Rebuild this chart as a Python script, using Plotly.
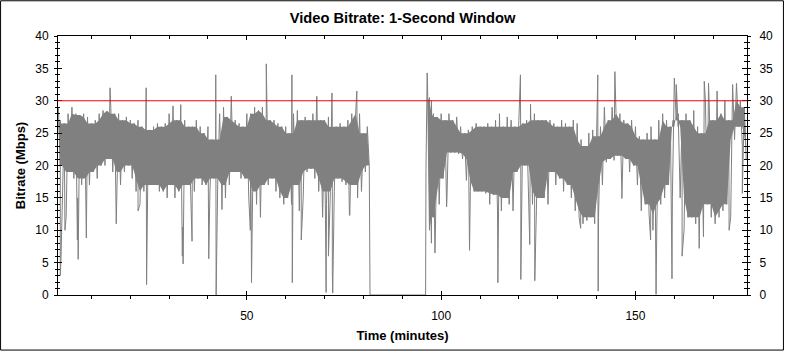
import plotly.graph_objects as go

# ---- data (minutes, Mbps) ----
TIME = [1.5, 2, 3, 4, 5, 6, 7, 8, 9, 10, 11, 12, 13, 14, 15, 16, 17, 18, 19, 20,
        21, 22, 23, 24, 25, 26, 27, 28, 29, 30, 31, 32, 33, 34, 35, 36, 37, 38, 39, 40,
        41, 42, 43, 44, 45, 46, 47, 48, 49, 50, 51, 52, 53, 54, 55, 56, 57, 58, 59, 60,
        61, 62, 63, 64, 65, 66, 67, 68, 69, 70, 71, 72, 73, 74, 75, 76, 77, 78, 79, 80, 81,
        96.5, 97, 97.5, 98, 99, 100, 101, 102, 103, 104, 105, 106, 107, 108, 109, 110,
        111, 112, 113, 114, 115, 116, 117, 118, 119, 120, 121, 122, 123, 124, 125, 126,
        127, 128, 129, 130, 131, 132, 133, 134, 135, 136, 137, 138, 139, 140, 141, 142,
        143, 144, 145, 146, 147, 148, 149, 150, 151, 152, 153, 154, 155, 156, 157, 158,
        159, 160, 160.5, 161, 162, 163, 164, 165, 166, 167, 168, 169, 170, 171, 172, 173,
        174, 175, 176, 177, 178]
HIGH = [29, 27, 26.5, 28, 29, 28, 27.8, 28, 27.5, 26.5, 27, 28, 28.5, 28.4, 29, 28, 28, 27, 27.5, 27,
        26.5, 27, 26, 26, 25.5, 26, 26.5, 26, 26.5, 28, 29.2, 27, 29.4, 27, 26, 26, 27, 26, 25, 26,
        24, 24, 28, 29, 27.5, 30.7, 27, 26.5, 26, 28, 28, 29, 28.5, 29, 28, 27, 27, 26.5, 26, 26,
        25, 28, 28.5, 27, 27.5, 27, 28, 30.7, 27, 27, 27.5, 26, 26, 26.5, 26, 27, 28, 28, 28, 25, 26,
        32.5, 30.5, 30, 28, 27.5, 28, 27, 28, 27, 27.5, 26, 25, 25.5, 26, 26.5, 26,
        26, 26.5, 26, 27, 28, 26, 27.5, 27, 26, 27, 26.5, 27, 29.5, 28, 27, 27,
        27, 27, 26.5, 26, 27, 26.5, 26, 27, 26.5, 24, 23, 25, 25.5, 24.5, 26, 29,
        27, 29, 28, 28, 27, 26.5, 27, 26, 24.5, 24, 25, 26, 24, 27, 28, 27,
        26, 33.5, 32.5, 28, 27, 28, 27, 28.5, 26, 25, 30, 29, 27, 31.5, 28, 30,
        27, 32.5, 32.7, 30, 29]
LOW = [20, 16, 12, 19, 18, 15, 17, 18, 17, 19, 18, 20, 20, 21, 19, 14, 17, 19, 20, 18,
       16, 14, 16, 17, 17, 17, 16, 16, 15, 17, 15, 16, 10.5, 17, 17, 16, 18, 17, 17, 16,
       18, 17, 17, 15, 17, 19, 19, 18, 18, 15, 16, 14, 12, 17, 17, 18, 16, 15, 14, 15,
       14, 17, 13, 15, 19, 19.5, 18, 16, 12, 14, 16, 16, 18, 17.5, 17, 12.3, 17, 15, 16, 19, 20,
       10, 8, 12, 9, 14, 18, 15, 22, 22, 21.8, 21, 17.7, 16, 16, 16, 16,
       15.7, 14, 15.5, 13, 13, 15, 14, 13, 19, 18, 20, 16, 14, 13, 15, 15,
       14, 19, 17, 18, 16, 17, 15, 13, 12, 11, 11.5, 12, 11, 12, 17, 20.5,
       21, 20.8, 21.5, 16, 21, 19, 20, 17, 13, 14, 12.5, 10, 11, 14, 15, 17,
       15, 27, 26, 15, 10, 12, 12, 11, 12, 9, 14, 12, 11, 12, 13, 14,
       12, 24, 26, 23, 21]

# isolated one-second spikes / dips and the signal-loss stretch
SPIKE_TIME = [2.0, 2.2, 3.2, 6.4, 6.6, 8.7, 14.8, 16.4, 22.0, 24.1, 24.2, 33.4, 33.6, 35.9,
              40.2, 42.0, 42.1, 43.6, 50.9, 51.2, 55.0, 61.6, 61.7, 64.0, 70.3, 70.4, 71.0,
              71.9, 72.0, 72.1, 76.4, 78.3, 81.6, 81.7, 96.0, 96.1, 96.4,
              98.4, 101.4, 107.3, 114.5, 114.6, 120.4, 120.5, 122.8, 124.0, 124.1, 135.9,
              140.3, 140.4, 144.7, 146.5, 153.9, 155.3, 159.4, 162.0, 166.4, 167.7, 168.8,
              174.1, 177.5]
SPIKE_VAL = [3, 6, 10, 8.5, 5.5, 8.8, 32, 11, 13, 32, 1.6, 6, 4.8, 8.3,
             5.6, 34, 0, 13.2, 10, 1.9, 35.7, 34, 1.9, 8.5, 2.4, 0.4, 6,
             31.2, 3.4, 0.3, 12.3, 31.5, 0, 0, 0, 19.5, 34.3,
             6.5, 13.6, 6.9, 7.5, 1.9, 34, 2.4, 7.8, 6, 2.2, 10.3,
             34, 0.6, 34.5, 14.9, 8.5, 0.1, 2.5, 6, 7.2, 33, 32.7,
             10, 15.7]

LIMIT = 30
X_RANGE = [1.41, 178.7]
Y_RANGE = [0, 40]
GAP_START, GAP_END = 81.6, 96.0

assert len(TIME) == len(HIGH) == len(LOW)
assert len(SPIKE_TIME) == len(SPIKE_VAL)

# zig-zag trace (peak then trough per minute, plus single-second spikes)
pts = []
for t, h, l in zip(TIME, HIGH, LOW):
    pts.append((t, h))
    pts.append((t + 0.5, l))
for t, v in zip(SPIKE_TIME, SPIKE_VAL):
    pts.append((t, v))
pts.sort(key=lambda p: p[0])
xs = [p[0] for p in pts]
ys = [p[1] for p in pts]

# dense core: the range shared by neighbouring minutes, so single-minute
# peaks and troughs of the zig-zag stick out of it
band_x, band_y = [], []
for seg in (lambda t: t < GAP_START, lambda t: t > GAP_END):
    idx = [i for i, t in enumerate(TIME) if seg(t)]
    n = len(idx)
    up, lo = [], []
    for k in range(n):
        nb = [idx[j] for j in range(max(0, k - 1), min(n, k + 2))]
        up.append(min(HIGH[j] for j in nb))
        lo.append(max(LOW[j] for j in nb))
    band_x += [TIME[i] for i in idx] + [TIME[i] + 0.5 for i in reversed(idx)] + [None]
    band_y += up + lo[::-1] + [None]

GRAY = "#808080"
FONT = "Arial, Liberation Sans, sans-serif"
fig = go.Figure()
fig.add_trace(go.Scatter(x=band_x, y=band_y, mode="none", fill="toself",
                         fillcolor=GRAY, hoverinfo="skip", showlegend=False))
fig.add_trace(go.Scatter(x=xs, y=ys, mode="lines",
                         line=dict(color=GRAY, width=1),
                         hoverinfo="skip", showlegend=False))
# dummy traces so overlay axes render
for xa, ya in [("x", "y2"), ("x2", "y3"), ("x3", "y4")]:
    fig.add_trace(go.Scatter(x=[50], y=[-10], xaxis=xa, yaxis=ya, mode="markers",
                             marker=dict(opacity=0), hoverinfo="skip", showlegend=False))

fig.add_shape(type="line", xref="paper", x0=0, x1=1, yref="y", y0=LIMIT, y1=LIMIT,
              line=dict(color="#ff0000", width=1), layer="above")
# outer frame
fig.add_shape(type="rect", xref="paper", yref="paper",
              x0=(0.5 - 58) / 690, x1=(784.5 - 58) / 690,
              y0=(297 - 352.5) / 261, y1=(297 - 0.5) / 261,
              line=dict(color="black", width=1), layer="above")

common_x = dict(range=X_RANGE, tick0=0, dtick=50, showgrid=False, zeroline=False,
                linecolor="black", linewidth=1, showline=True, tickcolor="black")
common_y = dict(range=Y_RANGE, tick0=0, dtick=5, showgrid=False, zeroline=False,
                linecolor="black", linewidth=1, showline=True, tickcolor="black")

fig.update_layout(
    width=785, height=353,
    margin=dict(l=58, r=37, t=36, b=56),
    paper_bgcolor="white", plot_bgcolor="white",
    font=dict(family=FONT, size=12, color="black"),
    title=dict(text="<b>Video Bitrate: 1-Second Window</b>", x=0.5, xref="paper",
               y=1 - 18 / 353, yref="container", yanchor="middle",
               font=dict(size=14.7, color="black")),
    showlegend=False,
    xaxis=dict(**common_x, ticks="outside", ticklen=4,
               minor=dict(dtick=10, tick0=0, ticks="outside", ticklen=3, tickcolor="black"),
               tickfont=dict(size=12), ticklabelstandoff=6,
               title=dict(text="<b>Time (minutes)</b>", font=dict(size=13), standoff=8)),
    xaxis2=dict(**common_x, overlaying="x", side="top", anchor="y", ticks="inside",
                ticklen=4, showticklabels=False,
                minor=dict(dtick=10, tick0=0, ticks="inside", ticklen=3, tickcolor="black")),
    xaxis3=dict(**common_x, overlaying="x", side="bottom", anchor="y", ticks="inside",
                ticklen=4, showticklabels=False),
    yaxis=dict(**common_y, ticks="outside", ticklen=3, side="left",
               minor=dict(dtick=1, tick0=0, ticks="outside", ticklen=2, tickcolor="black"),
               tickfont=dict(size=12), ticklabelstandoff=3,
               title=dict(text="<b>Bitrate (Mbps)</b>", font=dict(size=13), standoff=6)),
    yaxis2=dict(**common_y, overlaying="y", side="left", anchor="x", ticks="inside",
                ticklen=4, showticklabels=False,
                minor=dict(dtick=1, tick0=0, ticks="inside", ticklen=2, tickcolor="black")),
    yaxis3=dict(**common_y, overlaying="y", side="right", anchor="x", ticks="outside",
                ticklen=3, tickfont=dict(size=12), ticklabelstandoff=6,
                minor=dict(dtick=1, tick0=0, ticks="outside", ticklen=2, tickcolor="black")),
    yaxis4=dict(**common_y, overlaying="y", side="right", anchor="x", ticks="inside",
                ticklen=5, showticklabels=False,
                minor=dict(dtick=1, tick0=0, ticks="inside", ticklen=3, tickcolor="black")),
)

fig.write_html("out.html")
